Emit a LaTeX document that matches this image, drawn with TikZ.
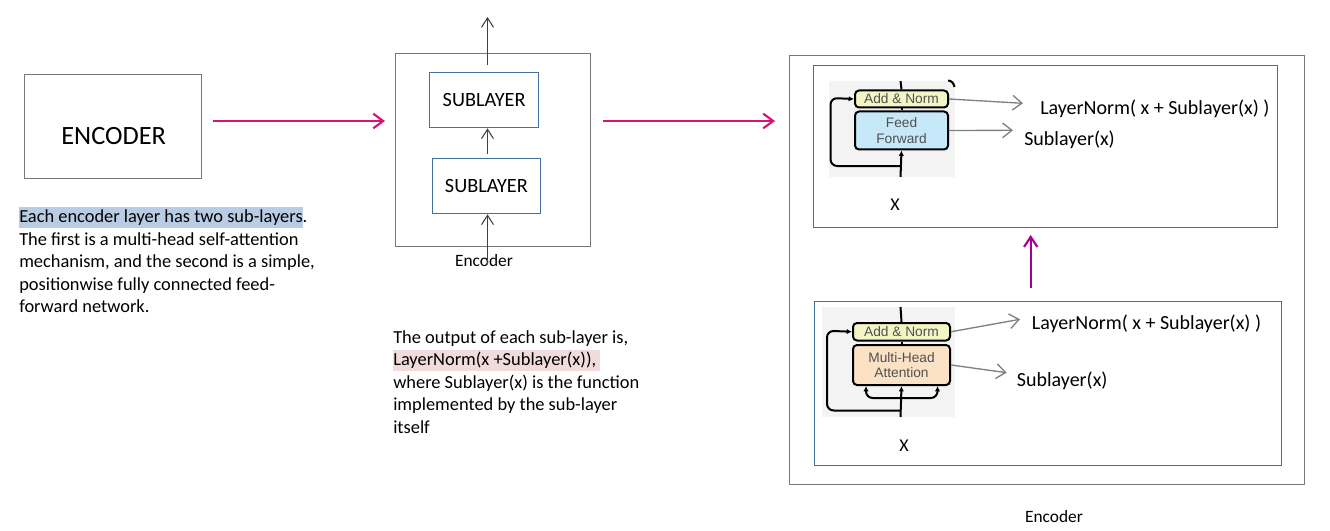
\documentclass[tikz,border=0pt]{standalone}
\usepackage{fontspec}
\setmainfont{Carlito}
\newfontfamily\imgfont{Liberation Sans}
\usetikzlibrary{arrows.meta}
\definecolor{boxgray}{RGB}{120,120,120}
\definecolor{boxblue}{RGB}{65,113,156}
\definecolor{pinkarrow}{RGB}{215,20,115}
\definecolor{purparrow}{RGB}{165,0,145}
\definecolor{hlblue}{RGB}{184,204,228}
\definecolor{hlpink}{RGB}{242,220,219}
\definecolor{imgbg}{RGB}{243,243,243}
\definecolor{anfill}{RGB}{244,245,196}
\definecolor{fffill}{RGB}{198,232,248}
\definecolor{mhafill}{RGB}{252,226,196}
\definecolor{imgtext}{RGB}{80,80,80}
\definecolor{darkline}{RGB}{64,64,64}
\definecolor{grayarrow}{RGB}{128,128,128}
\newcommand{\pxu}{0.75pt}
\newcommand{\hlbox}[2]{{\setlength{\fboxsep}{0pt}\colorbox{#1}{\rule[-4.3pt]{0pt}{15.8pt}#2}}}
\tikzset{
  rectbox/.style={draw=#1, line width=1pt, inner sep=0pt, anchor=north west},
  graybox/.style={rectbox=boxgray},
  bluebox/.style={rectbox=boxblue, font=\fontsize{15.2}{18}\selectfont},
  bodytext/.style={anchor=base west, inner sep=0pt, font=\fontsize{13.8}{16}\selectfont},
  lbltext/.style={inner sep=0pt, font=\fontsize{15}{18}\selectfont},
  smalllbl/.style={anchor=base, inner sep=0pt, font=\fontsize{13}{15}\selectfont},
  pinkarr/.style={draw=pinkarrow, line width=1.6pt, -{Straight Barb[length=7.5pt,width=11pt]}},
  purparr/.style={draw=purparrow, line width=1.6pt, -{Straight Barb[length=7.5pt,width=10pt]}},
  blackarr/.style={draw=darkline, line width=0.8pt, -{Straight Barb[length=7pt,width=9pt]}},
  grayarr/.style={draw=grayarrow, line width=1pt, -{Straight Barb[length=7pt,width=11pt]}},
  imgbgbox/.style={fill=imgbg, inner sep=0pt, anchor=north west},
  imgbox/.style={draw=black, line width=1.5pt, rounded corners=3pt, inner sep=0pt, anchor=north west,
    text=imgtext, align=center, font=\imgfont\fontsize{10.3}{11.5}\selectfont},
  imgline/.style={draw=black, line width=1.5pt},
  imgarr/.style={imgline, -{Latex[length=4pt,width=4pt]}},
}
\begin{document}
\begin{tikzpicture}[x=0.75pt,y=-0.75pt]
\useasboundingbox (0,0) rectangle (1330,531);

% ---------- left: ENCODER ----------
\node[graybox, minimum width=177*\pxu, minimum height=104*\pxu] (enc) at (24,74) {};
\node[anchor=base, inner sep=0pt, font=\fontsize{19.8}{24}\selectfont] (enct) at (113.7,144.3) {ENCODER};

\node[bodytext] (p1a) at (19,222.5) {\hlbox{hlblue}{Each encoder layer has two sub-layers}.};
\node[bodytext] (p1b) at (19,245) {The first is a multi-head self-attention};
\node[bodytext] (p1c) at (19,267.5) {mechanism, and the second is a simple,};
\node[bodytext] (p1d) at (19,290) {positionwise fully connected feed-};
\node[bodytext] (p1e) at (19,312.5) {forward network.};

% ---------- middle: Encoder with two sublayers ----------
\node[graybox, minimum width=195*\pxu, minimum height=193*\pxu] (mid) at (395,53) {};
\node[bluebox, minimum width=109*\pxu, minimum height=55*\pxu] (sub2) at (429,72) {SUBLAYER};
\node[bluebox, minimum width=108.5*\pxu, minimum height=55*\pxu] (sub1) at (431.5,158) {SUBLAYER};
\node[smalllbl] (midlbl) at (484,266) {Encoder};

\coordinate (midin) at (487.5,264);
\coordinate (midout) at (487.5,17);
\draw[blackarr] (midin) -- (midin |- sub1.south);
\draw[blackarr, shorten <=4*\pxu] (midin |- sub1.north) -- (midin |- sub2.south);
\draw[blackarr, shorten <=7*\pxu] (midin |- sub2.north) -- (midout);

% pink arrows
\coordinate (a1s) at (213,121);
\coordinate (a1e) at (385,121);
\coordinate (a2s) at (603,121);
\coordinate (a2e) at (775,121);
\draw[pinkarr] (a1s) -- (a1e);
\draw[pinkarr] (a2s) -- (a2e);

\node[bodytext] (p2a) at (393,343) {The output of each sub-layer is,};
\node[bodytext] (p2b) at (393,365.5) {\hlbox{hlpink}{LayerNorm(x +Sublayer(x)),\ }};
\node[bodytext] (p2c) at (393,388) {where Sublayer(x) is the function};
\node[bodytext] (p2d) at (393,410.5) {implemented by the sub-layer};
\node[bodytext] (p2e) at (393,433) {itself};

% ---------- right: detailed encoder ----------
\node[graybox, minimum width=515*\pxu, minimum height=429*\pxu] (outer) at (789,55) {};
\node[rectbox=boxblue, minimum width=464*\pxu, minimum height=162*\pxu] (topin) at (813,65) {};
\node[rectbox=boxblue, minimum width=467*\pxu, minimum height=164*\pxu] (botin) at (814,301) {};
\node[smalllbl] (outlbl) at (1054,522) {Encoder};

% top image: Feed Forward sublayer
\node[imgbgbox, minimum width=126*\pxu, minimum height=96*\pxu] (bg1) at (829,81) {};
\node[imgbox, fill=anfill, minimum width=93*\pxu, minimum height=17*\pxu] (an1) at (854,89.5) {Add \& Norm};
\node[imgbox, fill=fffill, minimum width=93*\pxu, minimum height=38*\pxu] (ff1) at (854,110.5) {Feed\\Forward};
\coordinate (t1top) at (900.5,81);
\coordinate (t1bot) at (900.5,177);
\coordinate (r1) at (900.5,166);
\coordinate (lc1) at (830.5,98);
\draw[imgline] (t1top) -- (an1.north);
\draw[imgline] (ff1.north) -- (an1.south);
\draw[imgarr] (t1bot) -- (ff1.south);
\draw[imgarr, rounded corners=5pt] (r1) -| (lc1) -- (an1.west);
\coordinate (arcs) at (948,80.5);
\coordinate (arce) at (954.5,87);
\draw[imgline] (arcs) to[out=0,in=100] (arce);

\coordinate (t1ln) at (1023,103.3);
\coordinate (t1sl) at (1013,130.3);
\draw[grayarr] (an1.east) -- (t1ln);
\draw[grayarr] (ff1.east) -- (t1sl);
\node[lbltext, anchor=base west] (ln1) at (1040,115) {LayerNorm( x + Sublayer(x) )};
\node[lbltext, anchor=base west] (sl1) at (1024,146) {Sublayer(x)};
\node[anchor=base, inner sep=0pt, font=\fontsize{13.5}{16}\selectfont] (x1) at (895,210.5) {X};

% bottom image: Multi-Head Attention sublayer
\node[imgbgbox, minimum width=133*\pxu, minimum height=110*\pxu] (bg2) at (822,307) {};
\node[imgbox, fill=anfill, minimum width=97*\pxu, minimum height=17.5*\pxu] (an2) at (852,322) {Add \& Norm};
\node[imgbox, fill=mhafill, minimum width=97*\pxu, minimum height=40*\pxu] (mha) at (852,344) {Multi-Head\\Attention};
\coordinate (b2top) at (900.5,307);
\coordinate (b2bot) at (900.5,417);
\coordinate (br) at (900.5,398);
\coordinate (r2) at (900.5,410.5);
\coordinate (lc2) at (827,330.75);
\draw[imgline] (b2top) -- (an2.north);
\draw[imgline] (mha.north) -- (an2.south);
\draw[imgarr] (b2bot) -- (mha.south);
\draw[imgarr, rounded corners=5pt] (br) -| ([xshift=-35.5*\pxu]mha.south);
\draw[imgarr, rounded corners=5pt] (br) -| ([xshift=36*\pxu]mha.south);
\draw[imgarr, rounded corners=5pt] (r2) -| (lc2) -- (an2.west);

\coordinate (b2ln) at (1020,319.3);
\coordinate (b2sl) at (1006.7,372.7);
\draw[grayarr] (an2.east) -- (b2ln);
\draw[grayarr] (mha.east) -- (b2sl);
\node[lbltext, anchor=base west] (ln2) at (1031.7,329.3) {LayerNorm( x + Sublayer(x) )};
\node[lbltext, anchor=base west] (sl2) at (1016.7,386.7) {Sublayer(x)};
\node[anchor=base, inner sep=0pt, font=\fontsize{13.5}{16}\selectfont] (x2) at (904,451.7) {X};

% purple arrow between the two sublayers
\coordinate (pa1) at (1030.7,288);
\coordinate (pa2) at (1030.7,235);
\draw[purparr] (pa1) -- (pa2);
\end{tikzpicture}
\end{document}
